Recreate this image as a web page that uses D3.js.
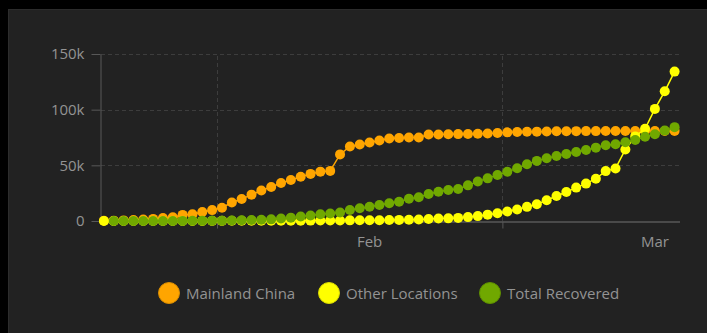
<!DOCTYPE html>
<html>
<head>
<meta charset="utf-8">
<script src="https://cdn.jsdelivr.net/npm/d3@7/dist/d3.min.js"></script>
<style>
  html, body { margin: 0; padding: 0; background: #000; }
  svg { display: block; }
  text { font-family: "Open Sans", "Noto Sans", sans-serif; }
</style>
</head>
<body>
<svg id="chart" width="707" height="333"></svg>
<script>
// ---------- data ----------
const dates = [
  "2020-01-20","2020-01-21","2020-01-22","2020-01-23","2020-01-24","2020-01-25","2020-01-26","2020-01-27",
  "2020-01-28","2020-01-29","2020-01-30","2020-01-31","2020-02-01","2020-02-02","2020-02-03","2020-02-04",
  "2020-02-05","2020-02-06","2020-02-07","2020-02-08","2020-02-09","2020-02-10","2020-02-11","2020-02-12",
  "2020-02-13","2020-02-14","2020-02-15","2020-02-16","2020-02-17","2020-02-18","2020-02-19","2020-02-20",
  "2020-02-21","2020-02-22","2020-02-23","2020-02-24","2020-02-25","2020-02-26","2020-02-27","2020-02-28",
  "2020-02-29","2020-03-01","2020-03-02","2020-03-03","2020-03-04","2020-03-05","2020-03-06","2020-03-07",
  "2020-03-08","2020-03-09","2020-03-10","2020-03-11","2020-03-12","2020-03-13","2020-03-14","2020-03-15",
  "2020-03-16","2020-03-17","2020-03-18"
];
const mainlandChina = [
  278, 326, 547, 900, 1300, 1900, 2600, 3400,
  5494, 6070, 8124, 9783, 11871, 16607, 19693, 23680,
  27409, 30553, 34075, 36778, 39790, 42306, 44327, 44999,
  59832, 66892, 68647, 70446, 72364, 74139, 74546, 74999,
  75072, 77622, 77738, 77852, 78060, 78065, 78298, 78624,
  79051, 79626, 79926, 80151, 80271, 80422, 80573, 80652,
  80699, 80735, 80757, 80790, 80813, 80824, 80844, 80860,
  80881, 80894, 80928
];
const otherLocations = [
  4, 6, 7, 10, 21, 28, 43, 45,
  68, 80, 94, 139, 139, 149, 154, 177,
  199, 216, 285, 290, 327, 360, 397, 450,
  509, 575, 616, 696, 748, 839, 983, 1066,
  1354, 1751, 2181, 2383, 2776, 3500, 4400, 5700,
  6900, 8500, 10300, 12700, 15000, 18600, 22400, 26000,
  30000, 33600, 38000, 44800, 47200, 64200, 76000, 82800,
  100700, 116500, 134200
];
const totalRecovered = [
  null, 25, 28, 30, 36, 39, 52, 61,
  107, 126, 143, 222, 284, 472, 623, 852,
  1124, 1487, 2200, 3000, 4000, 5000, 6000, 6800,
  7600, 9900, 11400, 12800, 14400, 15900, 17300, 20000,
  21300, 24200, 26300, 27800, 28800, 32000, 35500, 38300,
  41300, 44300, 47300, 51000, 54000, 56300, 58400, 60200,
  62000, 63800, 65900, 68000, 69000, 70700, 72800, 75700,
  77900, 81200, 84300
];
const seriesNames = ["Mainland China", "Other Locations", "Total Recovered"];
const seriesColors = ["#ffa500", "#ffff00", "#70a800"];
const seriesStrokes = ["#d98c00", "#d9d900", "#5e8f00"];
const yTicks = [0, 50000, 100000, 150000];
const yTickLabels = ["0", "50k", "100k", "150k"];
const monthLabels = ["Feb", "Mar"];

// ---------- layout ----------
const W = 707, H = 333;
const svg = d3.select("#chart");
const parse = d3.utcParse("%Y-%m-%d");
const dayDates = dates.map(parse);
const noon = d => d3.utcHour.offset(d, 12);

svg.append("rect").attr("x", 8.5).attr("y", 9.5).attr("width", W - 8).attr("height", H - 9)
  .attr("fill", "#222222").attr("stroke", "#2c2c2c");

const xStart = dayDates[0];
const xEnd = d3.utcDay.offset(dayDates[dayDates.length - 1], 1);
const x = d3.scaleUtc().domain([xStart, xEnd]).range([99, 679.5]);
const y = d3.scaleLinear().domain([0, 150000]).range([221, 54]);

const axisColor = "#585858";
const gridColor = "#3d3d3d";
const textColor = "#939393";

// grid lines
const monthStarts = d3.utcMonth.range(d3.utcMonth.ceil(xStart), xEnd);
svg.append("g").selectAll("line.hg").data(yTicks.slice(1)).join("line")
  .attr("x1", 101).attr("x2", 681)
  .attr("y1", d => Math.round(y(d)) + 0.5).attr("y2", d => Math.round(y(d)) + 0.5)
  .attr("stroke", gridColor).attr("stroke-dasharray", "4,3");
svg.append("g").selectAll("line.vg").data(monthStarts).join("line")
  .attr("x1", d => Math.round(x(d)) + 0.5).attr("x2", d => Math.round(x(d)) + 0.5)
  .attr("y1", y(0)).attr("y2", y(150000))
  .attr("stroke", gridColor).attr("stroke-dasharray", "4,3");

// y axis
const yAxis = d3.axisLeft(y).tickValues(yTicks)
  .tickFormat((d, i) => yTickLabels[i]).tickSize(9).tickSizeOuter(0).tickPadding(7);
const gy = svg.append("g").attr("transform", "translate(100.5,0)").call(yAxis);
gy.select(".domain").attr("stroke", axisColor);
gy.selectAll(".tick line").attr("stroke", axisColor);
gy.selectAll(".tick text").attr("fill", textColor).attr("font-size", 15)
  .attr("font-family", "Open Sans");

// x axis
const xAxis = d3.axisBottom(x).tickValues(monthStarts).tickFormat("").tickSize(7).tickSizeOuter(0);
const gx = svg.append("g").attr("transform", `translate(0,${y(0) + 0.5})`).call(xAxis);
gx.select(".domain").attr("stroke", axisColor).attr("stroke-width", 1.5);
gx.selectAll(".tick line").attr("stroke", axisColor);
svg.append("g").selectAll("text").data(monthStarts).join("text")
  .attr("x", d => x(d3.utcHour.offset(d, 372)))
  .attr("y", 247)
  .attr("text-anchor", "middle")
  .attr("fill", textColor).attr("font-size", 15)
  .text((d, i) => monthLabels[i]);

// series
const allSeries = [mainlandChina, otherLocations, totalRecovered];
const line = d3.line().defined(d => d.v != null).x(d => x(d.t)).y(d => y(d.v));
allSeries.forEach((vals, si) => {
  const pts = vals.map((v, i) => ({ t: noon(dayDates[i]), v }));
  const g = svg.append("g");
  g.append("path").datum(pts).attr("d", line)
    .attr("fill", "none").attr("stroke", seriesColors[si]).attr("stroke-width", 1.5);
  g.selectAll("circle").data(pts.filter(d => d.v != null)).join("circle")
    .attr("cx", d => x(d.t)).attr("cy", d => y(d.v)).attr("r", 5)
    .attr("fill", seriesColors[si]);
});

// legend
const legendX = [169, 329, 490];
const lg = svg.append("g");
seriesNames.forEach((name, i) => {
  lg.append("circle").attr("cx", legendX[i]).attr("cy", 293).attr("r", 10.5)
    .attr("fill", seriesColors[i]).attr("stroke", seriesStrokes[i]).attr("stroke-width", 1);
  lg.append("text").attr("x", legendX[i] + 17).attr("y", 298.5)
    .attr("fill", textColor).attr("font-size", 15).text(name);
});
</script>
</body>
</html>
